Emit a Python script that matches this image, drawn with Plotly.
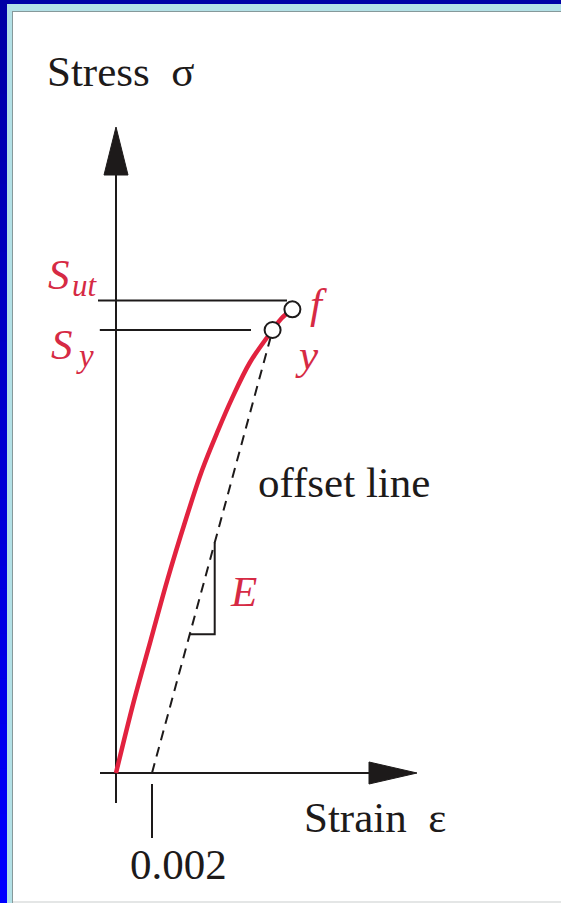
import plotly.graph_objects as go

# ---- data: engineering stress-strain curve (strain [-], stress [MPa]) ----
curve_strain = [0.0, 0.0010, 0.00193, 0.00286, 0.00386, 0.00478, 0.00567, 0.00642, 0.00744, 0.0087, 0.0092, 0.0098]
curve_stress = [0, 49, 90, 131, 171, 205, 232, 253, 278, 300, 308, 314]

offset_strain = 0.002           # 0.2 % offset
yield_point = (0.0087, 300)     # y  -> S_y
fracture_point = (0.0098, 314)  # f
ultimate_stress = 320           # S_ut

# guide lines from the stress axis to the points
sut_line_strain = [-0.0010, 0.0095]
sy_line_strain = [-0.0009, 0.0075]

# slope triangle on the offset line (stress levels)
slope_stress = [94, 156]

# ---- page geometry, drawing scale and origin position ----
W, H = 561, 903
ML, MT = 7, 4                      # blue slide frame lives in the margins
PW, PH = W - ML, H - MT
PX_PER_STRAIN = 18000.0
PX_PER_MPA = 443 / 300.0
ORIGIN_PX = (116, 773)

x_range = [(ML - ORIGIN_PX[0]) / PX_PER_STRAIN, (W - ORIGIN_PX[0]) / PX_PER_STRAIN]
y_range = [(ORIGIN_PX[1] - H) / PX_PER_MPA, (ORIGIN_PX[1] - MT) / PX_PER_MPA]


def dx(px):
    return px / PX_PER_STRAIN


def dy(px):
    return px / PX_PER_MPA


def paper_x(px):
    return (px - ML) / PW


def paper_y(py):
    return 1 - (py - MT) / PH


INK = "#1d1a1a"
RED = "#e2223f"
RED_TXT = "#d62a44"
SERIF = "Liberation Serif, Times New Roman, serif"

fig = go.Figure()


def line(xs, ys, color=INK, width=2, dash=None, shape="linear"):
    fig.add_trace(go.Scatter(x=xs, y=ys, mode="lines", hoverinfo="skip",
                             line=dict(color=color, width=width, dash=dash, shape=shape)))


def arrow_head(xs, ys):
    fig.add_trace(go.Scatter(x=xs, y=ys, mode="lines", fill="toself",
                             fillcolor=INK, line=dict(color=INK, width=1),
                             hoverinfo="skip"))


# stress axis
y_axis_bottom, y_axis_base, y_axis_tip = -dy(30), dy(598), dy(646)
line([0, 0], [y_axis_bottom, y_axis_base])
arrow_head([-dx(12), dx(12), 0, -dx(12)], [y_axis_base, y_axis_base, y_axis_tip, y_axis_base])

# strain axis
x_axis_left, x_axis_base, x_axis_tip = -dx(16), dx(253), dx(301)
line([x_axis_left, x_axis_base], [0, 0])
arrow_head([x_axis_base, x_axis_base, x_axis_tip, x_axis_base], [-dy(11), dy(11), 0, -dy(11)])

# 0.002 tick below the strain axis
line([offset_strain, offset_strain], [-dy(11), -dy(65)])

# S_ut and S_y guide lines
line(sut_line_strain, [ultimate_stress, ultimate_stress])
line(sy_line_strain, [yield_point[1], yield_point[1]])

# offset line (parallel to the elastic slope E)
E = yield_point[1] / (yield_point[0] - offset_strain)
line([offset_strain, yield_point[0]], [0, yield_point[1]], width=2, dash="10px,7px")

# slope triangle
s_lo, s_hi = slope_stress
x_lo = offset_strain + s_lo / E
x_hi = offset_strain + s_hi / E
line([x_lo, x_hi, x_hi], [s_lo, s_lo, s_hi])

# stress-strain curve
line(curve_strain, curve_stress, color=RED, width=4.5, shape="spline")

# yield and fracture points
fig.add_trace(go.Scatter(
    x=[yield_point[0], fracture_point[0]], y=[yield_point[1], fracture_point[1]],
    mode="markers", hoverinfo="skip",
    marker=dict(symbol="circle", size=16, color="white", line=dict(color=INK, width=2))))

# ---- text ----
def text(x, y, s, color=INK, size=43, italic=False, xanchor="left", xref="x", yref="y"):
    fig.add_annotation(x=x, y=y, xref=xref, yref=yref, text=s, showarrow=False,
                       xanchor=xanchor, yanchor="middle",
                       font=dict(family=SERIF, size=size, color=color,
                                 style="italic" if italic else "normal"))


text(paper_x(45), paper_y(72), "Stress\u2002\u03c3", xref="paper", yref="paper")
text(paper_x(302), paper_y(817), "Strain\u2002\u03b5", xref="paper", yref="paper")
text(offset_strain + dx(26), -dy(91), "0.002", xanchor="center")
text(yield_point[0] - dx(17), yield_point[1] - dy(152), "offset line")
text(x_hi + dx(13), (s_lo + s_hi) / 2 - dy(3), "E", color=RED_TXT, italic=True)

text(fracture_point[0] + dx(16), fracture_point[1] + dy(6), "f", color=RED_TXT, italic=True)
text(yield_point[0] + dx(20), yield_point[1] - dy(24), "y", color=RED_TXT, italic=True)

text(-dx(70), ultimate_stress + dy(26), "S", color=RED_TXT, italic=True)
text(-dx(46), ultimate_stress + dy(15), "ut", color=RED_TXT, italic=True, size=31)
text(-dx(67), yield_point[1] - dy(14), "S", color=RED_TXT, italic=True)
text(-dx(42), yield_point[1] - dy(26), "y", color=RED_TXT, italic=True, size=33)

# ---- slide frame ----
shapes = []


def rect(x0, y0, x1, y1, color):
    shapes.append(dict(type="rect", xref="paper", yref="paper",
                       x0=paper_x(x0), x1=paper_x(x1), y0=paper_y(y1), y1=paper_y(y0),
                       fillcolor=color, line=dict(width=0), layer="above"))


# blue strip down the left edge, darker at the top
n = 40
for i in range(n):
    t = i / (n - 1)
    b = int(0xa6 + (0xff - 0xa6) * t)
    y0 = MT + PH * i / n
    y1 = MT + PH * (i + 1) / n
    rect(0, y0, ML, y1 + 0.5, f"rgb(0,0,{b})")
rect(ML, MT, W, 11, "#b3e0e6")        # light band along the top
rect(ML, 11, 12, H, "#b3e0e6")        # light band along the left
rect(12, 11, W, 12, "#86999a")        # thin grey edge
rect(12, 12, 13, H, "#86999a")
rect(13, 901, W, H, "#e4e6e6")        # faint bottom edge

fig.update_layout(
    width=W, height=H,
    margin=dict(l=ML, r=0, t=MT, b=0, pad=0),
    paper_bgcolor="#0000a6", plot_bgcolor="white",
    showlegend=False,
    xaxis=dict(range=x_range, visible=False, fixedrange=True),
    yaxis=dict(range=y_range, visible=False, fixedrange=True),
    shapes=shapes,
)

fig.write_html("out.html", config={"displayModeBar": False})
